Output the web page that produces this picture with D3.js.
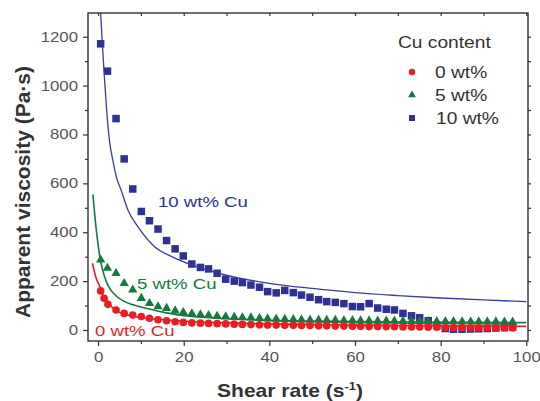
<!DOCTYPE html>
<html>
<head>
<meta charset="utf-8">
<script src="https://cdn.jsdelivr.net/npm/d3@7"></script>
<style>
  body { margin: 0; background: #fff; }
  svg { display: block; }
</style>
</head>
<body>
<svg id="chart" width="540" height="401"></svg>
<script>
// Measured shear rates (s^-1)
const shearRate = [0.6, 2.2, 4.2, 6.1, 8.1, 10.1, 12.0, 14.0, 16.0, 18.0, 19.9, 21.9, 23.9, 25.8, 27.8,
  29.8, 31.8, 33.7, 35.7, 37.7, 39.6, 41.6, 43.6, 45.6, 47.5, 49.5, 51.5, 53.4, 55.4, 57.4, 59.4, 61.3,
  63.3, 65.3, 67.3, 69.2, 71.2, 73.2, 75.1, 77.1, 79.1, 81.1, 83.0, 85.0, 87.0, 88.9, 90.9, 92.9, 94.9, 96.8];
const shearRate0 = [0.6, 1.4, 2.3, 4.2].concat(shearRate.slice(3));

// Apparent viscosity (Pa·s) for each Cu content
const visc0 = [160, 130, 105, 82, 68, 61, 55, 48, 42, 38, 34, 31, 29, 28, 27, 26, 25, 24, 23, 22, 21, 20, 20,
  19, 19, 18, 18, 17, 17, 16, 16, 15, 15, 14, 14, 13, 13, 12, 12, 12, 11, 11, 10, 10, 10, 9, 9, 9, 8, 8, 8];
const visc5 = [287, 253, 232, 191, 164, 130, 109, 96, 89, 79, 72, 67, 63, 60, 57, 55, 53, 51, 50, 48, 46, 45,
  44, 43, 42, 41, 41, 40, 40, 39, 39, 38, 38, 37, 37, 37, 36, 36, 36, 35, 35, 35, 35, 34, 34, 34, 34, 34, 33, 33];
const visc10 = [1171, 1059, 865, 700, 577, 485, 447, 413, 366, 332, 303, 270, 256, 250, 232, 208, 200, 194, 184,
  175, 157, 152, 162, 153, 143, 134, 124, 116, 113, 108, 96, 95, 108, 90, 85, 82, 68, 58, 50, 38, 18, 6, 3, 3,
  4, 5, 6, 8, 10, 12];

// Fitted model curves
const fit0X = [-1.3, -0.5, 0.4, 1, 2, 3.5, 5, 6.6, 9, 11.3, 16, 21.4, 30, 40, 60, 80, 100];
const fit0Y = [273, 215, 178, 150, 123, 89, 72, 62, 53, 48, 41, 35, 29, 25, 20, 17, 15];
const fit5X = [-1.2, -0.6, 0, 0.5, 1, 2, 3, 4.3, 6, 8, 11, 16, 21, 30, 40, 60, 80, 100];
const fit5Y = [555, 440, 350, 290, 250, 195, 163, 138, 118, 104, 90, 70, 57, 46, 40, 35, 32, 30];
const fit10X = [0.5, 1, 1.5, 2, 2.7, 3.5, 4.3, 5.4, 7, 9.3, 13.2, 17, 22, 30, 40, 50, 60, 70, 80, 90, 100];
const fit10Y = [1330, 1170, 1030, 900, 770, 690, 625, 572, 490, 423, 341, 302, 265, 224, 191, 170, 153, 141, 131, 123, 116];

// Axis ticks and labels
const xTicks = [0, 20, 40, 60, 80, 100];
const xMinorTicks = [10, 30, 50, 70, 90];
const yTicks = [0, 200, 400, 600, 800, 1000, 1200];
const yMinorTicks = [100, 300, 500, 700, 900, 1100];
const seriesNames = ["0 wt%", "5 wt%", "10 wt%"];
const curveLabels = ["0 wt% Cu", "5 wt% Cu", "10 wt% Cu"];
const colors = ["#ec1c24", "#157a3f", "#2e3192"];

const FONT = "'Liberation Sans', Arial, Helvetica, sans-serif";
const STRETCH = 1.2;
const svg = d3.select("#chart");

const L = 88, R = 528, T = 13, B = 341;
const x = d3.scaleLinear().domain([-2.35, 100.4]).range([L, R]);
const y = d3.scaleLinear().domain([-45, 1297]).range([B, T]);

svg.append("defs").append("clipPath").attr("id", "plotclip")
  .append("rect").attr("x", L).attr("y", T).attr("width", R - L).attr("height", B - T);

// Axes
function styleAxis(g) {
  g.select(".domain").remove();
  g.selectAll("line").attr("stroke", "#333").attr("stroke-width", 1.2);
  g.selectAll("text").attr("font-family", FONT).attr("font-size", 14).attr("fill", "#555");
}
const gx = svg.append("g").attr("transform", `translate(0,${B})`)
  .call(d3.axisBottom(x).tickValues(xTicks).tickSize(5).tickPadding(6).tickFormat(d3.format("d")));
styleAxis(gx);
gx.selectAll("text").attr("transform", `scale(${STRETCH},1)`);
const gxm = svg.append("g").attr("transform", `translate(0,${B})`)
  .call(d3.axisBottom(x).tickValues(xMinorTicks).tickSize(3).tickFormat(""));
styleAxis(gxm);

const gy = svg.append("g").attr("transform", `translate(${L},0)`)
  .call(d3.axisLeft(y).tickValues(yTicks).tickSize(5).tickPadding(5).tickFormat(d3.format("d")));
styleAxis(gy);
gy.selectAll("text").attr("x", -10 / STRETCH).attr("transform", `scale(${STRETCH},1)`);
const gym = svg.append("g").attr("transform", `translate(${L},0)`)
  .call(d3.axisLeft(y).tickValues(yMinorTicks).tickSize(3).tickFormat(""));
styleAxis(gym);

// Mirror ticks on top and right
const gt = svg.append("g").attr("transform", `translate(0,${T})`)
  .call(d3.axisTop(x).tickValues(d3.range(0, 101, 10)).tickSize(-3).tickFormat(""));
styleAxis(gt);
const gr = svg.append("g").attr("transform", `translate(${R},0)`)
  .call(d3.axisRight(y).tickValues(d3.range(0, 1201, 100)).tickSize(3).tickFormat(""));
styleAxis(gr);

// Frame
svg.append("rect").attr("x", L).attr("y", T).attr("width", R - L).attr("height", B - T)
  .attr("fill", "none").attr("stroke", "#333").attr("stroke-width", 1.4);

// Scatter points
const plot = svg.append("g").attr("clip-path", "url(#plotclip)");
const sq = 7.5;
plot.append("g").selectAll("rect").data(d3.zip(shearRate, visc10)).join("rect")
  .attr("x", d => x(d[0]) - sq / 2).attr("y", d => y(d[1]) - sq / 2)
  .attr("width", sq).attr("height", sq).attr("fill", colors[2]);
const tri = d3.symbol().type(d3.symbolTriangle).size(38);
plot.append("g").selectAll("path").data(d3.zip(shearRate, visc5)).join("path")
  .attr("d", tri).attr("transform", d => `translate(${x(d[0])},${y(d[1])})`).attr("fill", colors[1]);
plot.append("g").selectAll("circle").data(d3.zip(shearRate0, visc0)).join("circle")
  .attr("cx", d => x(d[0])).attr("cy", d => y(d[1])).attr("r", 3.8).attr("fill", colors[0]);

// Fitted curves
const line = d3.line().x(d => x(d[0])).y(d => y(d[1])).curve(d3.curveMonotoneX);
[[fit0X, fit0Y, colors[0], 1.6], [fit5X, fit5Y, colors[1], 1.6], [fit10X, fit10Y, "#3a3c9e", 1.3]]
  .forEach(([fx, fy, c, w]) => {
    plot.append("path").datum(d3.zip(fx, fy)).attr("d", line)
      .attr("fill", "none").attr("stroke", c).attr("stroke-width", w);
  });

// Text helper: horizontally stretched label anchored at (tx, ty)
function label(txt, tx, ty, size, color, opts = {}) {
  return svg.append("text")
    .attr("transform", `translate(${tx},${ty}) scale(${opts.stretch || STRETCH},1)`)
    .attr("font-family", FONT).attr("font-size", size)
    .attr("font-weight", opts.bold ? "bold" : "normal")
    .attr("text-anchor", opts.anchor || "start")
    .attr("fill", color).text(txt);
}

// Curve labels
label(curveLabels[2], 158, 207, 15.5, colors[2]);
label(curveLabels[1], 137, 289, 15.5, colors[1]);
label(curveLabels[0], 95, 336, 15.5, colors[0]);

// Legend
label("Cu content", 398, 48, 16, "#333");
const legY = [72, 95, 118];
svg.append("circle").attr("cx", 412).attr("cy", legY[0]).attr("r", 3.2).attr("fill", colors[0]);
svg.append("path").attr("d", d3.symbol().type(d3.symbolTriangle).size(26))
  .attr("transform", `translate(412,${legY[1]})`).attr("fill", colors[1]);
svg.append("rect").attr("x", 409).attr("y", legY[2] - 3).attr("width", 6).attr("height", 6).attr("fill", colors[2]);
seriesNames.forEach((s, i) => label(s, i === 2 ? 436 : 435, legY[i] + 5.5, 16, "#333"));

// Axis titles
const xt = svg.append("text")
  .attr("transform", `translate(290,397) scale(1.17,1)`)
  .attr("font-family", FONT).attr("font-size", 18).attr("font-weight", "bold")
  .attr("text-anchor", "middle").attr("fill", "#333");
xt.append("tspan").text("Shear rate (s");
xt.append("tspan").attr("font-size", 11).attr("dy", -7).text("-1");
xt.append("tspan").attr("dy", 7).text(")");

svg.append("text")
  .attr("transform", "translate(30,192) rotate(-90)")
  .attr("font-family", FONT).attr("font-size", 21).attr("font-weight", "bold")
  .attr("text-anchor", "middle").attr("fill", "#333")
  .text("Apparent viscosity (Pa·s)");
</script>
</body>
</html>
